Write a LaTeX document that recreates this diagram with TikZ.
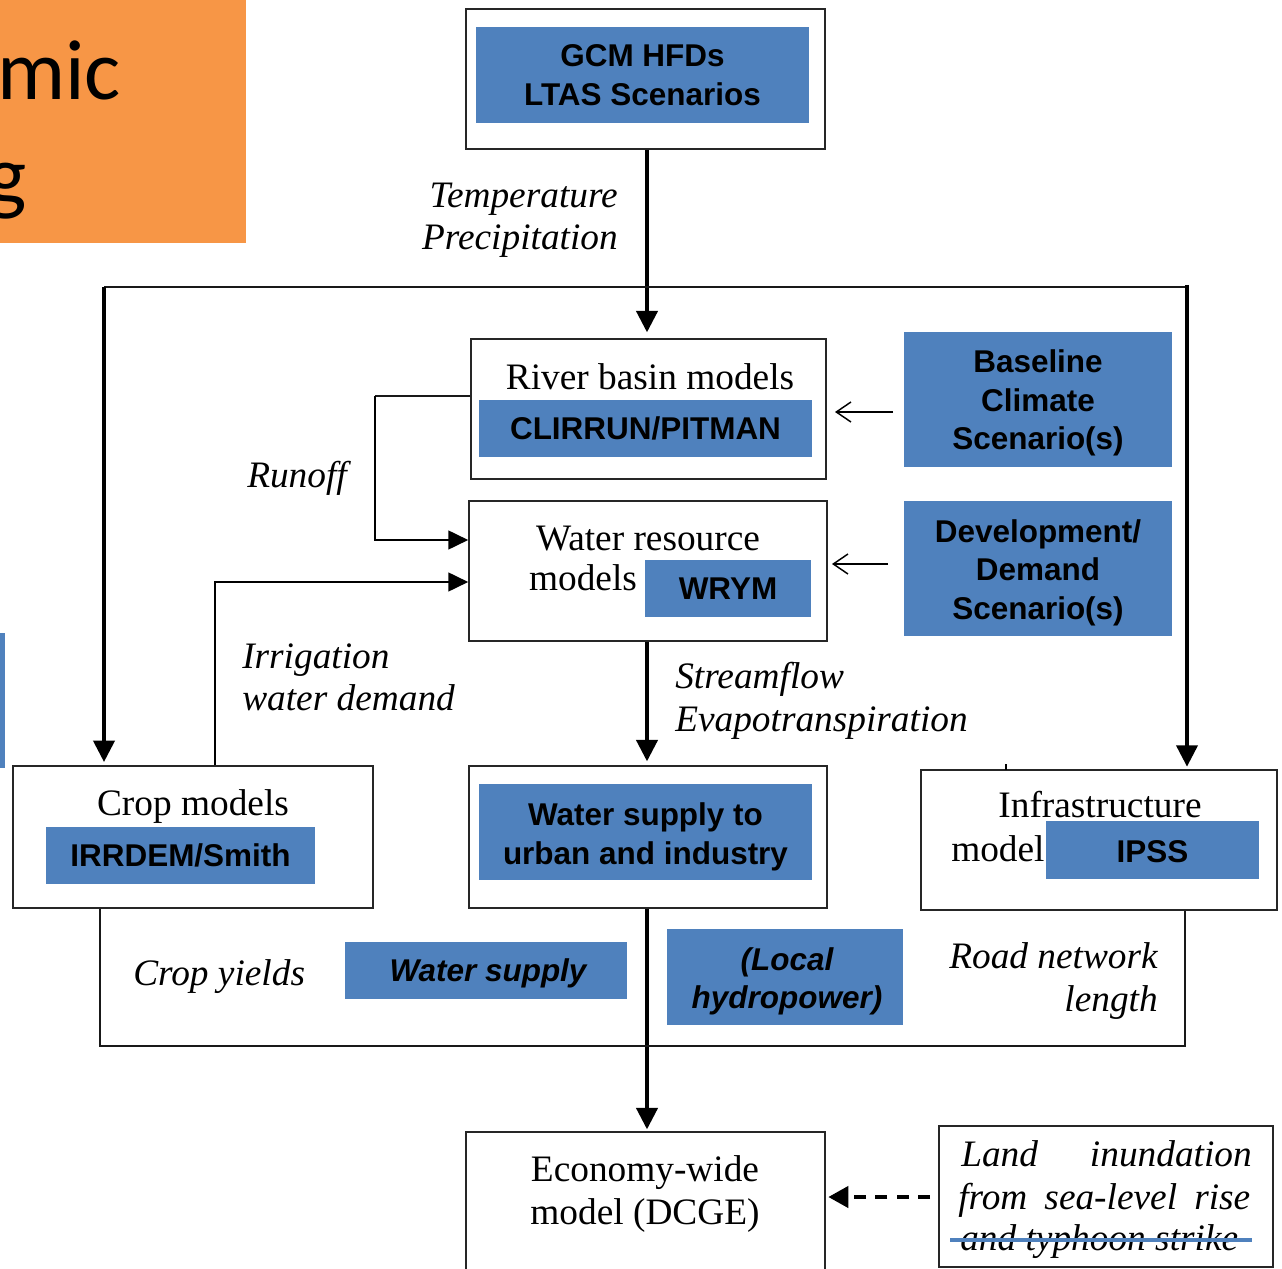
\documentclass[tikz,border=0pt]{standalone}
\usepackage{fontspec}
\setmainfont{Liberation Serif}
\setsansfont{Liberation Sans}
\newfontfamily\carl{Carlito}
\usetikzlibrary{arrows.meta}
\definecolor{myblue}{HTML}{4F81BD}
\definecolor{myorange}{HTML}{F79646}
\tikzset{
  px/.style 2 args={minimum width=#1*0.75pt, minimum height=#2*0.75pt},
  box/.style={draw=black!85, line width=1.1pt, inner sep=0pt, fill=white},
  bluebox/.style={fill=myblue, inner sep=0pt, align=center, font=\sffamily\bfseries\fontsize{23.6}{28.8}\selectfont},
  btext/.style={inner sep=0pt, align=center, font=\sffamily\bfseries\fontsize{23.6}{28.8}\selectfont},
  bitext/.style={inner sep=0pt, align=center, font=\sffamily\bfseries\itshape\fontsize{23.6}{28.8}\selectfont},
  serif/.style={inner sep=0pt, font=\fontsize{28}{32}\selectfont},
  ital/.style={inner sep=0pt, font=\itshape\fontsize{28}{32}\selectfont},
  bigarrow/.style={line width=2.3pt, -{Triangle[width=16pt,length=16pt]}},
  medarrow/.style={line width=2pt, -{Triangle[width=14pt,length=15pt]}},
  thinarrow/.style={line width=1.1pt, -{Straight Barb[length=11pt,width=15pt]}},
  plain/.style={line width=1.3pt, draw=black!90},
}
\begin{document}
\begin{tikzpicture}[x=0.75pt,y=-0.75pt]
\useasboundingbox (0,0) rectangle (1282,1269);
\clip (0,0) rectangle (1282,1269);

% orange title fragment
\fill[myorange] (0,0) rectangle (246,243);
\node[inner sep=0pt, anchor=base west, font=\carl\fontsize{64}{70}\selectfont] (t1) at (-3,100) {mic};
\node[inner sep=0pt, anchor=base west, font=\carl\fontsize{64}{70}\selectfont] (t2) at (-14,205) {g};
% left blue bar fragment
\fill[myblue] (0,633) rectangle (5,768);

% GCM
\node[box, px={359}{140}] (gcm) at (645.5,79) {};
\node[bluebox, px={333}{96}] (gcmb) at (642.5,75) {GCM HFDs\\LTAS Scenarios};

\node[ital, anchor=base east] (temp) at (618,208) {Temperature};
\node[ital, anchor=base east] (prec) at (618,250) {Precipitation};

% River basin
\node[box, px={355}{140}] (river) at (648.5,409) {};
\node[serif, anchor=base] (rivt) at (650,390) {River basin models};
\node[bluebox, px={333}{57}] (riverb) at (645.5,428.5) {CLIRRUN/PITMAN};

\node[bluebox, px={268}{135}] (basec) at (1038,399.5) {};
\node[btext] (basect) at (1038,403) {Baseline\\Climate\\Scenario(s)};
\coordinate (b1) at (893,412);
\coordinate (b2) at (835,412);
\draw[thinarrow] (b1) -- (b2);

% Water resource
\node[box, px={358}{140}] (wr) at (648,571) {};
\node[serif, anchor=base] (wrt1) at (648,550) {Water resource};
\node[serif, anchor=base] (wrt2) at (583,590) {models};
\node[bluebox, px={166}{57}] (wrb) at (728,588.5) {WRYM};

\node[bluebox, px={268}{135}] (devs) at (1038,568.5) {};
\node[btext] (devst) at (1038,572.5) {Development/\\Demand\\Scenario(s)};
\coordinate (d1) at (888,564);
\coordinate (d2) at (832,564);
\draw[thinarrow] (d1) -- (d2);

% Crop
\node[box, px={360}{142}] (crop) at (193,837) {};
\node[serif, anchor=base] (cropt) at (193,815) {Crop models};
\node[bluebox, px={269}{57}] (cropb) at (180.5,855.5) {IRRDEM/Smith};

% Water supply
\node[box, px={358}{142}] (ws) at (648,837) {};
\node[bluebox, px={333}{96}] (wsb) at (645.5,832) {};
\node[btext] (wsbt) at (645.5,837) {Water supply to\\urban and industry};

% Infrastructure
\node[box, px={356}{140}] (infra) at (1099,840) {};
\node[serif, anchor=base] (inft) at (1100,817) {Infrastructure};
\node[serif, anchor=base west] (infm) at (951,861) {model};
\node[bluebox, px={213}{58}] (infb) at (1152.5,850) {};
\node[btext] (infbt) at (1152.5,852) {IPSS};
\draw[line width=1pt] (1006,764) -- (1006,770);

% Economy
\node[box, px={359}{168}] (eco) at (645.5,1216) {};
\node[serif, anchor=base] (ecot1) at (645,1181) {Economy-wide};
\node[serif, anchor=base] (ecot2) at (645,1224) {model (DCGE)};

% Land inundation
\node[box, px={334}{141}] (land) at (1106,1196.5) {};
\node[ital, anchor=base west] (l1a) at (961,1166) {Land};
\node[ital, anchor=base east] (l1b) at (1252,1166) {inundation};
\node[ital, anchor=base west] (l2) at (958,1209) {\hbox to 219pt{from\hfill sea-level\hfill rise}};
\node[ital, anchor=base west] (l3) at (960,1250) {and typhoon strike};
\draw[myblue, line width=3.5pt] (950,1240) -- (1252,1240);

% labels
\node[ital, anchor=base west] (runoff) at (247,488) {Runoff};
\node[ital, anchor=base west] (irr1) at (242,668) {Irrigation};
\node[ital, anchor=base west] (irr2) at (242,710) {water demand};
\node[ital, anchor=base west] (sf1) at (675,688) {Streamflow};
\node[ital, anchor=base west] (sf2) at (675,731) {Evapotranspiration};
\node[ital, anchor=base west] (cy) at (133,985) {Crop yields};
\node[ital, anchor=base east] (rn1) at (1158,968) {Road network};
\node[ital, anchor=base east] (rn2) at (1158,1011) {length};

\node[bluebox, px={282}{57}] (wsup) at (486,970.5) {};
\node[bitext] (wsupt) at (488,973.5) {Water supply};
\node[bluebox, px={236}{96}] (local) at (785,977) {};
\node[bitext] (localt) at (787,981.5) {(Local\\hydropower)};

% connectors
\coordinate (cx) at (647,0);
\draw[bigarrow, shorten >=4.5pt] (cx |- gcm.south) -- (cx |- river.north);
\coordinate (tl) at (104,287);
\coordinate (tr) at (1187,287);
\draw[plain] (tl) -- (tr);
\draw[bigarrow, shorten >=2.5pt] (tl) -- (tl |- crop.north);
\draw[bigarrow, shorten >=2pt] ([yshift=1.5pt]tr) -- (tr |- infra.north);

\coordinate (ro) at (375,396);
\coordinate (ro2) at (375,540);
\draw[plain] (river.west |- ro) -- (ro);
\draw[medarrow] (ro) -- (ro2) -- (ro2 -| wr.west);

\coordinate (ir) at (215,582);
\draw[medarrow] (ir |- crop.north) -- (ir) -- (ir -| wr.west);

\draw[bigarrow, shorten >=3pt] (cx |- wr.south) -- (cx |- ws.north);
\draw[bigarrow, shorten >=1.5pt] (cx |- ws.south) -- (cx |- eco.north);

\coordinate (e1) at (100,1046);
\coordinate (e2) at (1185,1046);
\draw[plain] (e1 |- crop.south) -- (e1) -- (e2) -- (e2 |- infra.south);

\coordinate (lx) at (930,1197);
\draw[line width=2.6pt, dash pattern=on 9pt off 7pt, -{Triangle[width=16pt,length=15pt]}, shorten >=2pt] (lx) -- (lx -| eco.east);
\end{tikzpicture}
\end{document}
